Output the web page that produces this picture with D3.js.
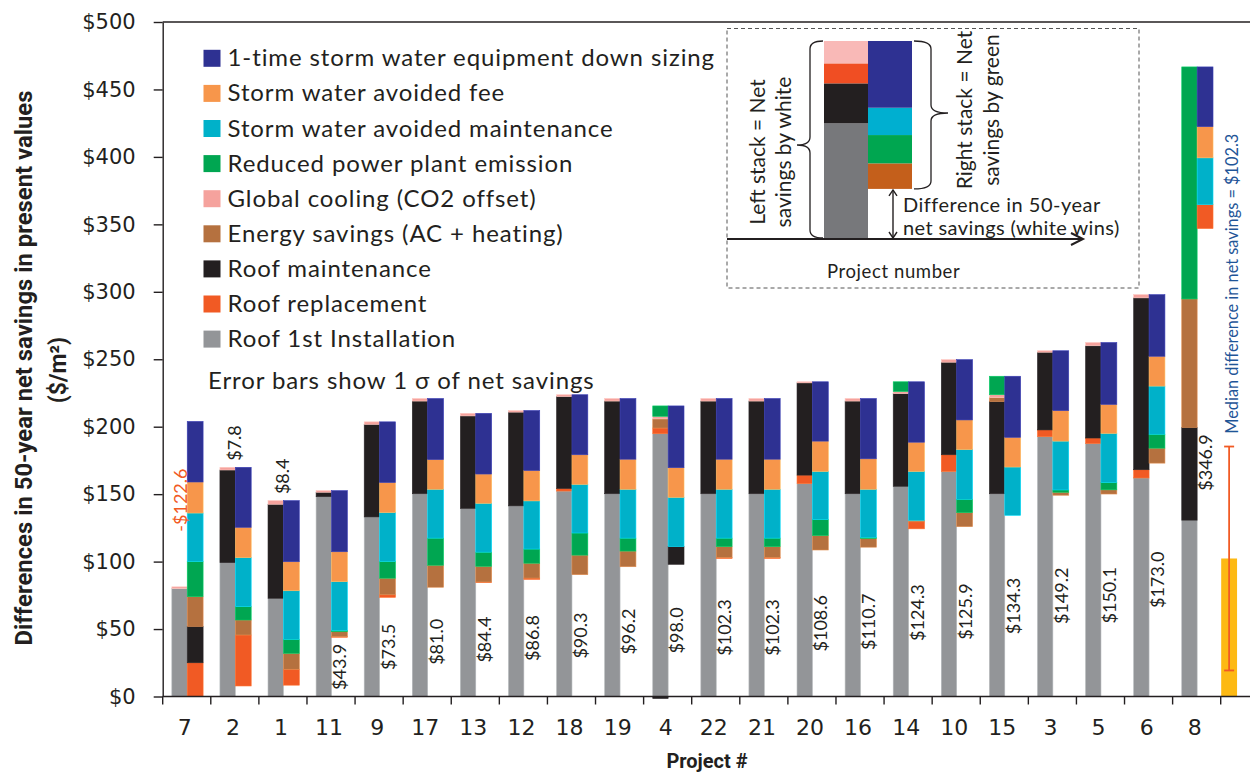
<!DOCTYPE html>
<html>
<head>
<meta charset="utf-8">
<script src="https://cdn.jsdelivr.net/npm/d3@7"></script>
<style>
  body { margin: 0; background: #fff; }
  svg { display: block; font-family: Lato, "Open Sans", sans-serif; }
</style>
</head>
<body>
<div id="chart"></div>
<script>
// Projects in the order they appear on the x axis
var projects = ["7", "2", "1", "11", "9", "17", "13", "12", "18", "19", "4", "22", "21", "20", "16", "14", "10", "15", "3", "5", "6", "8"];

// Difference in 50-year net savings (white minus green), $/m2
var netDiff = [-122.6, 7.8, 8.4, 43.9, 73.5, 81.0, 84.4, 86.8, 90.3, 96.2, 98.0, 102.3, 102.3, 108.6, 110.7, 124.3, 125.9, 134.3, 149.2, 150.1, 173.0, 346.9];

// Median of the differences and its 1 sigma
var medianDiff = 102.3,
    medianSigma = 83.0;

// Left stack: white roof components
var whiteInstall  = [80.0, 99.2, 72.8, 148.1, 133.1, 150.3, 139.4, 141.3, 152.3, 150.3, 194.8, 150.3, 150.3, 157.8, 150.3, 155.8, 166.8, 150.3, 192.6, 187.5, 162.0, 130.7];
var whiteReplace  = [0, 0, 0, 0, 0, 0, 0, 0, 1.9, 0, 4.2, 0, 0, 6.3, 0, 0, 12.4, 0, 5.0, 4.1, 6.1, 0];
var whiteMaint    = [0, 68.7, 69.7, 3.3, 68.6, 68.7, 68.6, 69.5, 68.1, 68.7, -1.5, 68.7, 68.7, 68.4, 68.7, 68.7, 68.6, 68.4, 57.6, 68.4, 127.4, 68.8];
var whiteEnergy   = [0, 0, 0, 0, 0, 0, 0, 0, 0, 0, 6.8, 0, 0, 0, 0, 0, 0, 3.0, 0, 0, 0, 95.2];
var whiteCooling  = [1.3, 2.0, 2.7, 1.2, 1.9, 1.9, 1.9, 1.1, 1.4, 1.9, 1.9, 1.9, 1.9, 0.8, 1.9, 1.6, 1.9, 2.0, 1.1, 2.4, 2.4, 0];
var whiteEmission = [0, 0, 0, 0, 0, 0, 0, 0, 0, 0, 7.7, 0, 0, 0, 0, 7.2, 0, 13.7, 0, 0, 0, 172.0];

// Right stack: green roof components
var greenReplace  = [25.0, 37.8, 11.8, 0.5, 1.9, 0, 0.5, 1.0, 0, 0, 0, 0.8, 0.8, 0, 0, 5.2, 0, 0, 0, 0, 0, 17.7];
var greenMaint    = [27.0, 0, 0, 0, 0, 0, 0, 0, 0, 0, 13.1, 0, 0, 0, 0, 0, 0, 0, 0, 0, 0, 0];
var greenEnergy   = [22.0, 11.1, 11.8, 3.6, 12.3, 16.3, 11.6, 11.0, 14.5, 11.6, 0, 8.0, 8.0, 10.7, 6.4, 1.1, 10.4, 0, 2.2, 3.1, 11.1, 0];
var greenEmission = [26.0, 9.9, 10.4, 0.9, 12.4, 20.1, 10.5, 10.5, 16.4, 9.6, 0, 6.3, 6.3, 11.8, 0.9, 0, 9.9, 0, 1.7, 5.4, 10.3, 0];
var greenSwMaint  = [36.0, 36.3, 36.0, 36.2, 36.2, 36.2, 36.2, 35.7, 36.0, 36.2, 36.5, 36.2, 36.2, 35.7, 35.6, 36.2, 36.8, 35.8, 36.2, 36.4, 35.7, 34.7];
var greenSwFee    = [23.0, 22.5, 21.5, 22.2, 22.3, 22.0, 21.7, 22.5, 22.0, 22.3, 22.0, 22.3, 22.3, 22.5, 22.6, 21.7, 22.0, 22.0, 22.6, 21.5, 22.1, 23.1];
var greenSwEquip  = [44.9, 44.5, 45.3, 45.3, 45.0, 45.3, 45.0, 44.5, 44.5, 45.0, 45.8, 45.0, 45.0, 44.0, 44.7, 44.8, 44.7, 45.3, 44.4, 45.9, 45.7, 44.3];

var zeros = projects.map(function () { return 0; });

// Components, bottom of the stack first
var keys = ["install", "replace", "maint", "energy", "cooling", "emission", "swMaint", "swFee", "swEquip"];
var keyLabels = ["Roof 1st Installation", "Roof replacement", "Roof maintenance", "Energy savings (AC + heating)",
    "Global cooling (CO2 offset)", "Reduced power plant emission", "Storm water avoided maintenance",
    "Storm water avoided fee", "1-time storm water equipment down sizing"];
var keyColors = ["#939598", "#f15a24", "#231f20", "#b5713f", "#f5a29d", "#00a651", "#00b1c9", "#f7964b", "#2e3192"];

var yTicks = [0, 50, 100, 150, 200, 250, 300, 350, 400, 450, 500];

// Schematic bars of the inset (arbitrary units)
var insetKeys = ["a", "b", "c", "d"];
var insetLeft = [58.4, 20.2, 10.1, 11.3];
var insetLeftColors = ["#77787b", "#231f20", "#f04e23", "#f9b9b7"];
var insetRight = [12.9, 14.3, 13.8, 33.7];
var insetRightColors = ["#c45f1b", "#00a650", "#00afd0", "#2e3192"];
var insetGap = 25.3;

var chart = (function () {

    "use strict";

    var W = 1250,
        H = 772,
        ink = "#231f20";

    function buildRows(series) {
        return projects.map(function (p, i) {
            var row = {project: p, index: i};
            keys.forEach(function (k, j) { row[k] = series[j][i]; });
            return row;
        });
    }

    function brace(xEnd, xTip, y1, y2, ym) {
        // vertical curly brace, tip pointing towards xTip
        var xm = (xEnd + xTip) / 2, r = 8;
        return "M" + xEnd + "," + y1 +
            " Q" + xm + "," + y1 + " " + xm + "," + (y1 + r) +
            " L" + xm + "," + (ym - r) +
            " Q" + xm + "," + ym + " " + xTip + "," + ym +
            " Q" + xm + "," + ym + " " + xm + "," + (ym + r) +
            " L" + xm + "," + (y2 - r) +
            " Q" + xm + "," + y2 + " " + xEnd + "," + y2;
    }

    function render() {
        var svg = d3.select("#chart").append("svg")
            .attr("width", W).attr("height", H);

        var x = d3.scaleBand()
                .domain(projects.concat(["median"]))
                .range([162.7, 1268.8])
                .padding(0),
            bw = x.bandwidth(),
            y = d3.scaleLinear().domain([0, 500]).range([696.5, 22]);

        var stack = d3.stack().keys(keys).offset(d3.stackOffsetDiverging);

        var whiteRows = buildRows([whiteInstall, whiteReplace, whiteMaint, whiteEnergy, whiteCooling, whiteEmission, zeros, zeros, zeros]),
            greenRows = buildRows([zeros, greenReplace, greenMaint, greenEnergy, zeros, greenEmission, greenSwMaint, greenSwFee, greenSwEquip]);

        var whiteTotal = whiteRows.map(function (r) {
            return d3.sum(keys, function (k) { return Math.max(r[k], 0); });
        });

        // left stacks (white)
        var gW = svg.append("g");
        stack(whiteRows).forEach(function (layer, j) {
            gW.selectAll(null)
                .data(layer.filter(function (d) { return d[1] !== d[0]; }))
                .enter().append("rect")
                .attr("x", function (d) { return x(d.data.project) + bw * 0.19; })
                .attr("width", bw * 0.32)
                .attr("y", function (d) { return y(Math.max(d[0], d[1])); })
                .attr("height", function (d) { return Math.abs(y(d[0]) - y(d[1])); })
                .attr("fill", keyColors[j])
                .attr("stroke", d3.color(keyColors[j]).brighter(0.6))
                .attr("stroke-width", 0.6);
        });

        // right stacks (green), floating on the net difference
        var gG = svg.append("g");
        stack(greenRows).forEach(function (layer, j) {
            gG.selectAll(null)
                .data(layer.filter(function (d) { return d[1] !== d[0]; }))
                .enter().append("rect")
                .attr("x", function (d) { return x(d.data.project) + bw * 0.51; })
                .attr("width", bw * 0.33)
                .attr("y", function (d) { return y(Math.max(netDiff[d.data.index], 0) + d[1]); })
                .attr("height", function (d) { return y(d[0]) - y(d[1]); })
                .attr("fill", keyColors[j])
                .attr("stroke", d3.color(keyColors[j]).brighter(0.6))
                .attr("stroke-width", 0.6);
        });

        // median bar with error bar
        var mx = x("median") + bw * 0.01,
            mw = bw * 0.33,
            mc = mx + mw / 2;
        svg.append("rect")
            .attr("x", mx).attr("width", mw)
            .attr("y", y(medianDiff)).attr("height", y(0) - y(medianDiff))
            .attr("fill", "#fdb913");
        var eb = svg.append("g").attr("stroke", "#f15a24").attr("stroke-width", 1.8);
        eb.append("line").attr("x1", mc).attr("x2", mc)
            .attr("y1", y(medianDiff - medianSigma)).attr("y2", y(medianDiff + medianSigma));
        [medianDiff - medianSigma, medianDiff + medianSigma].forEach(function (v) {
            eb.append("line").attr("x1", mc - 5).attr("x2", mc + 5)
                .attr("y1", y(v)).attr("y2", y(v));
        });
        svg.append("text")
            .attr("transform", "translate(" + (mc + 9) + "," + y(306) + ") rotate(-90)")
            .attr("text-anchor", "middle")
            .attr("font-size", 17)
            .attr("textLength", 300)
            .attr("lengthAdjust", "spacingAndGlyphs")
            .attr("fill", "#1f5597")
            .text("Median difference in net savings = $" + medianDiff.toFixed(1));

        // value labels
        svg.append("g").selectAll("text")
            .data(projects)
            .enter().append("text")
            .attr("transform", function (p, i) {
                var d = netDiff[i], cx, cy;
                if (d < 0) {
                    cx = x(p) + bw * 0.35;
                    cy = y(-d + 23);
                } else if (d < 20) {
                    cx = x(p) + bw * 0.49;
                    cy = y(whiteTotal[i] + 18);
                } else {
                    cx = x(p) + bw * 0.675;
                    cy = y(d / 2);
                }
                return "translate(" + cx + "," + cy + ") rotate(-90)";
            })
            .attr("text-anchor", "middle")
            .attr("dominant-baseline", "central")
            .attr("font-size", 18)
            .attr("fill", function (p, i) { return netDiff[i] < 0 ? "#f15a24" : ink; })
            .text(function (p, i) {
                var d = netDiff[i];
                return (d < 0 ? "-$" : "$") + Math.abs(d).toFixed(1);
            });

        // axes
        var yAxis = d3.axisLeft(y)
            .tickValues(yTicks)
            .tickSize(9)
            .tickSizeOuter(0)
            .tickPadding(18)
            .tickFormat(function (d) { return "$" + d; });
        var gy = svg.append("g")
            .attr("transform", "translate(" + x.range()[0] + ",0)")
            .call(yAxis);
        gy.selectAll("path, line").attr("stroke", ink).attr("stroke-width", 1.4);
        gy.selectAll("text")
            .attr("font-family", "'DejaVu Sans', sans-serif")
            .attr("font-size", 21)
            .attr("fill", ink);

        // top frame line
        svg.append("line")
            .attr("x1", x.range()[0]).attr("x2", W)
            .attr("y1", y(500)).attr("y2", y(500))
            .attr("stroke", ink).attr("stroke-width", 1.4);

        // x axis: baseline, ticks between categories, labels
        var gx = svg.append("g");
        gx.append("line")
            .attr("x1", x.range()[0]).attr("x2", W)
            .attr("y1", y(0)).attr("y2", y(0))
            .attr("stroke", ink).attr("stroke-width", 1.4);
        gx.selectAll(".tk")
            .data(x.domain())
            .enter().append("line")
            .attr("x1", function (d) { return x(d); })
            .attr("x2", function (d) { return x(d); })
            .attr("y1", y(0)).attr("y2", y(0) + 8)
            .attr("stroke", ink).attr("stroke-width", 1.4);
        gx.selectAll("text")
            .data(projects)
            .enter().append("text")
            .attr("x", function (d) { return x(d) + bw * 0.46; })
            .attr("y", 735)
            .attr("text-anchor", "middle")
            .attr("font-family", "'DejaVu Sans', sans-serif")
            .attr("font-size", 22)
            .attr("fill", ink)
            .text(function (d) { return d; });

        // axis titles
        svg.append("text")
            .attr("transform", "translate(32,368) rotate(-90)")
            .attr("text-anchor", "middle")
            .attr("font-family", "Roboto, sans-serif")
            .attr("font-weight", "bold")
            .attr("font-size", 23)
            .attr("textLength", 555)
            .attr("lengthAdjust", "spacingAndGlyphs")
            .attr("fill", ink)
            .text("Differences in 50-year net savings in present values");
        svg.append("text")
            .attr("transform", "translate(66,370) rotate(-90)")
            .attr("text-anchor", "middle")
            .attr("font-family", "Roboto, sans-serif")
            .attr("font-weight", "bold")
            .attr("font-size", 23)
            .attr("fill", ink)
            .text("($/m²)");
        svg.append("text")
            .attr("x", 707).attr("y", 768)
            .attr("text-anchor", "middle")
            .attr("font-family", "Roboto, sans-serif")
            .attr("font-weight", "bold")
            .attr("font-size", 20)
            .attr("fill", ink)
            .text("Project #");

        // legend (top of the stack first)
        var order = d3.range(keys.length).reverse(),
            lg = svg.append("g").selectAll("g")
                .data(order)
                .enter().append("g")
                .attr("transform", function (k, i) { return "translate(203.5," + (58.3 + i * 35.1) + ")"; });
        lg.append("rect")
            .attr("x", 0).attr("y", -8.5)
            .attr("width", 17).attr("height", 17)
            .attr("fill", function (k) { return keyColors[k]; });
        lg.append("text")
            .attr("x", 24).attr("y", 8)
            .attr("font-size", 24)
            .attr("letter-spacing", 0.9)
            .attr("fill", ink)
            .text(function (k) { return keyLabels[k]; });
        svg.append("text")
            .attr("x", 208).attr("y", 389)
            .attr("font-size", 24)
            .attr("letter-spacing", 0.9)
            .attr("fill", ink)
            .text("Error bars show 1 σ of net savings");

        drawInset(svg);
    }

    function drawInset(svg) {
        var g = svg.append("g"),
            iy = d3.scaleLinear().domain([0, 100]).range([239, 41]),
            ix = d3.scaleBand().domain(["L", "R"]).range([824, 912]);

        g.append("rect")
            .attr("x", 727).attr("y", 28.5)
            .attr("width", 412).attr("height", 259.5)
            .attr("fill", "none")
            .attr("stroke", "#555").attr("stroke-width", 1)
            .attr("stroke-dasharray", "4,3");

        var lRow = {}, rRow = {};
        insetKeys.forEach(function (k, j) { lRow[k] = insetLeft[j]; rRow[k] = insetRight[j]; });
        var st = d3.stack().keys(insetKeys);

        st([lRow]).forEach(function (layer, j) {
            g.append("rect")
                .attr("x", ix("L")).attr("width", ix.bandwidth())
                .attr("y", iy(layer[0][1])).attr("height", iy(layer[0][0]) - iy(layer[0][1]))
                .attr("fill", insetLeftColors[j]);
        });
        st([rRow]).forEach(function (layer, j) {
            g.append("rect")
                .attr("x", ix("R")).attr("width", ix.bandwidth())
                .attr("y", iy(insetGap + layer[0][1])).attr("height", iy(layer[0][0]) - iy(layer[0][1]))
                .attr("fill", insetRightColors[j]);
        });

        var leftTop = iy(d3.sum(insetLeft)),
            rightTop = iy(insetGap + d3.sum(insetRight)),
            rightBot = iy(insetGap);

        // braces
        g.append("path")
            .attr("d", brace(ix("L") - 1, 797, leftTop, iy(0) - 1, 145))
            .attr("fill", "none").attr("stroke", ink).attr("stroke-width", 1.3);
        g.append("path")
            .attr("d", brace(ix("R") + ix.bandwidth() + 2, 948, rightTop, rightBot, 113))
            .attr("fill", "none").attr("stroke", ink).attr("stroke-width", 1.3);

        // horizontal arrow (project number axis)
        g.append("line")
            .attr("x1", 727).attr("x2", 1082)
            .attr("y1", iy(0)).attr("y2", iy(0))
            .attr("stroke", ink).attr("stroke-width", 2);
        g.append("path")
            .attr("d", "M1071," + (iy(0) - 6) + " L1083," + iy(0) + " L1071," + (iy(0) + 6))
            .attr("fill", "none").attr("stroke", ink).attr("stroke-width", 2);

        // double arrow for the difference
        var ax = 893;
        g.append("line")
            .attr("x1", ax).attr("x2", ax)
            .attr("y1", rightBot + 1).attr("y2", iy(0) - 1)
            .attr("stroke", ink).attr("stroke-width", 1.4);
        g.append("path")
            .attr("d", "M" + (ax - 4) + "," + (rightBot + 7) + " L" + ax + "," + (rightBot + 1) + " L" + (ax + 4) + "," + (rightBot + 7) +
                " M" + (ax - 4) + "," + (iy(0) - 7) + " L" + ax + "," + (iy(0) - 1) + " L" + (ax + 4) + "," + (iy(0) - 7))
            .attr("fill", "none").attr("stroke", ink).attr("stroke-width", 1.4);

        // texts
        var rot = [
            {x: 765, y: 152, t: "Left stack = Net"},
            {x: 791, y: 152, t: "savings by white"},
            {x: 972, y: 110, t: "Right stack = Net"},
            {x: 999, y: 110, t: "savings by green"}
        ];
        g.selectAll(".rot")
            .data(rot)
            .enter().append("text")
            .attr("transform", function (d) { return "translate(" + d.x + "," + d.y + ") rotate(-90)"; })
            .attr("text-anchor", "middle")
            .attr("font-size", 21)
            .attr("fill", ink)
            .text(function (d) { return d.t; });

        g.append("text").attr("x", 903).attr("y", 212)
            .attr("font-size", 20).attr("letter-spacing", 0.5).attr("fill", ink)
            .text("Difference in 50-year");
        g.append("text").attr("x", 903).attr("y", 235)
            .attr("font-size", 20).attr("letter-spacing", 0.4).attr("fill", ink)
            .text("net savings (white wins)");
        g.append("text").attr("x", 827).attr("y", 278)
            .attr("font-size", 18.5).attr("letter-spacing", 0.6).attr("fill", ink)
            .text("Project number");
    }

    return {
        render: render
    };

}());

chart.render();
</script>
</body>
</html>
